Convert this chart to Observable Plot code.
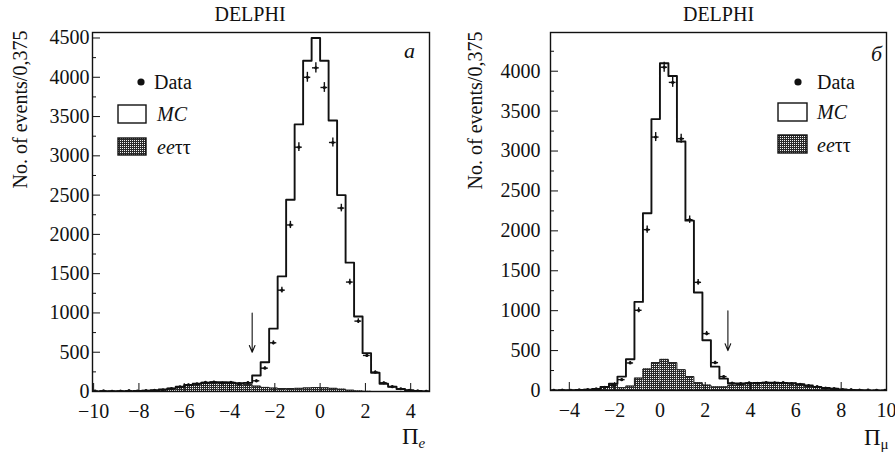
<!DOCTYPE html>
<html>
<head>
<meta charset="utf-8">
<script src="https://cdn.jsdelivr.net/npm/d3@7"></script>
<script src="https://cdn.jsdelivr.net/npm/@observablehq/plot@0.6"></script>
<style>
  body { margin: 0; background: #fff; font-family: 'Liberation Serif'; }
  #fig { position: relative; width: 895px; height: 453px; color: #111; }
  .panel { position: absolute; top: 0; }
  #overlay { position: absolute; left: 0; top: 0; pointer-events: none; }
  #overlay text { font-family: 'Liberation Serif'; font-size: 20px; }
</style>
</head>
<body>
<div id="fig">
  <div class="panel" id="left" style="left:0px"></div>
  <div class="panel" id="right" style="left:448px"></div>
  <svg id="overlay" width="895" height="453" fill="#111">
    <defs>
      <pattern id="hatch" width="2" height="2" patternUnits="userSpaceOnUse">
        <rect width="2" height="2" fill="#2a2a2a"/>
        <rect width="1" height="1" fill="#f4f4f4"/>
      </pattern>
    </defs>
    <!-- legend, left panel -->
    <circle cx="141" cy="82" r="3.6"/>
    <text x="154" y="82" dy="0.34em" style="font-family:'Liberation Serif'">Data</text>
    <rect x="118" y="105" width="28" height="18" fill="#fff" stroke="#111" stroke-width="1.4"/>
    <text x="157" y="114" dy="0.34em" font-style="italic" style="font-family:'Liberation Serif'">MC</text>
    <rect x="118" y="138" width="28" height="17" fill="url(#hatch)" stroke="#111" stroke-width="1.4"/>
    <text x="157" y="147" dy="0.34em" style="font-family:'Liberation Serif'"><tspan font-style="italic">ee</tspan>ττ</text>
    <!-- legend, right panel -->
    <circle cx="798" cy="82" r="3.6"/>
    <text x="817" y="82" dy="0.34em" style="font-family:'Liberation Serif'">Data</text>
    <rect x="778" y="103" width="29" height="18" fill="#fff" stroke="#111" stroke-width="1.4"/>
    <text x="817" y="112" dy="0.34em" font-style="italic" style="font-family:'Liberation Serif'">MC</text>
    <rect x="778" y="135" width="29" height="18" fill="url(#hatch)" stroke="#111" stroke-width="1.4"/>
    <text x="817" y="145" dy="0.34em" style="font-family:'Liberation Serif'"><tspan font-style="italic">ee</tspan>ττ</text>
  </svg>
</div>
<script>
// Histograms share a bin width of 0.375; bin k spans [k·w, (k+1)·w).
const binWidth = 0.375;

// Π_e distribution (electron identification)
const eFirstBin = -27;
const eMC = [2,3,3,4,5,7,10,16,26,40,60,82,100,112,118,117,112,105,110,204,373,800,1465,2440,3400,4210,4500,4210,3450,2500,1640,955,488,238,98,60,32,15,6,2];
const eData = [5,8,3,6,10,4,12,14,22,38,58,85,96,115,120,108,118,100,112,136,297,620,1290,2120,3110,4000,4120,3870,3170,2335,1393,896,459,246,111,62,35,15,8,3];
const eBgFirstBin = -22;
const eBg = [3,6,12,22,36,55,78,96,108,115,114,108,100,88,68,52,43,38,38,40,45,50,47,40,30,16,7,2];
const eCut = [{x: -3, from: 1000, to: 500}];
const eXTicks = [-10, -8, -6, -4, -2, 0, 2, 4];
const eYTicks = [0, 500, 1000, 1500, 2000, 2500, 3000, 3500, 4000, 4500];
const eYMinor = [250, 750, 1250, 1750, 2250, 2750, 3250, 3750, 4250];

// Π_μ distribution (muon identification)
const mFirstBin = -13;
const mMC = [2,3,4,6,10,18,45,86,174,392,1110,2220,3400,4100,3940,3120,2128,1228,630,299,149,88,88,92,95,98,98,96,92,80,62,46,33,22,14,8,4,2,2,1];
const mData = [3,5,2,8,12,20,40,65,136,345,1005,2015,3175,4050,3860,3155,2140,1355,713,349,174,92,85,95,90,100,95,98,88,78,60,48,30,24,12,10,5,4,3,2];
const mBgFirstBin = -7;
const mBg = [40,80,35,55,155,270,350,390,350,260,175,98,68,46,46,65,78,85,90,92,92,90,85,72,55,40,28,18,10,5,2];
const mCut = [{x: 3, from: 1000, to: 500}];
const mXTicks = [-4, -2, 0, 2, 4, 6, 8, 10];
const mYTicks = [0, 500, 1000, 1500, 2000, 2500, 3000, 3500, 4000];
const mYMinor = [250, 750, 1250, 1750, 2250, 2750, 3250, 3750, 4250];

const experiment = "DELPHI";
const yTitle = "No. of events/0,375";
const serif = "Liberation Serif";

function toBins(first, values) {
  return values.map((v, i) => {
    const k = first + i;
    return {x1: k * binWidth, x2: (k + 1) * binWidth, xc: (k + 0.5) * binWidth, v};
  });
}

// outline of a histogram as a closed staircase
function staircase(bins) {
  const pts = [{x: bins[0].x1, y: 0}];
  for (const b of bins) pts.push({x: b.x1, y: b.v}, {x: b.x2, y: b.v});
  pts.push({x: bins[bins.length - 1].x2, y: 0});
  return pts;
}

function panel(o) {
  const mc = toBins(o.mcFirst, o.mc);
  const data = toBins(o.mcFirst, o.data);
  const bg = toBins(o.bgFirst, o.bg);
  const ink = "#111";
  const txt = {fontFamily: serif, fill: ink};
  return Plot.plot({
    width: 447,
    height: 453,
    marginTop: 32,
    marginBottom: o.marginBottom,
    marginLeft: o.marginLeft,
    marginRight: o.marginRight,
    style: {fontFamily: serif, fontSize: "20px", color: ink, background: "transparent", overflow: "visible"},
    x: {domain: o.xDomain, label: null},
    y: {domain: o.yDomain, label: null},
    marks: [
      Plot.rectY(bg, {x1: "x1", x2: "x2", y: "v", fill: "url(#hatch)", clip: true}),
      Plot.line(staircase(bg), {x: "x", y: "y", stroke: "#222", strokeWidth: 1, clip: true}),
      Plot.line(staircase(mc), {x: "x", y: "y", stroke: ink, strokeWidth: 1.9, clip: true}),
      Plot.ruleX(data, {x: "xc", y1: d => d.v - Math.sqrt(d.v), y2: d => d.v + Math.sqrt(d.v), stroke: ink, strokeWidth: 1.4, clip: true}),
      Plot.ruleY(data, {y: "v", x1: d => d.xc - 0.15, x2: d => d.xc + 0.15, stroke: ink, strokeWidth: 1.4, clip: true}),
      Plot.dot(data, {x: "xc", y: "v", r: 1.6, fill: ink, clip: true}),
      Plot.arrow(o.cut, {x: "x", y1: "from", y2: "to", stroke: ink, strokeWidth: 1.1, headLength: 10, headAngle: 45}),
      Plot.frame({stroke: ink, strokeWidth: 1.4}),
      // inward ticks
      Plot.axisX({ticks: o.xTicks, tickSize: -8, tickFormat: () => "", label: null, stroke: ink}),
      Plot.axisY({ticks: o.yTicks, tickSize: -8, tickFormat: () => "", label: null, stroke: ink}),
      Plot.axisY({ticks: o.yMinor, tickSize: -4, tickFormat: () => "", label: null, stroke: ink}),
      // tick labels
      Plot.axisX({ticks: o.xTicks, tickSize: 0, tickPadding: 12, label: null, fontSize: 20, ...txt}),
      Plot.axisY({ticks: o.yTicks, tickSize: 0, tickPadding: o.yPad, tickFormat: d => String(d), label: null, fontSize: 20, ...txt}),
      // titles
      Plot.text([experiment], {frameAnchor: "top", dx: o.titleDx, dy: -18, lineAnchor: "middle", fontSize: 20, ...txt}),
      Plot.text([yTitle], {frameAnchor: "top-left", dx: o.yTitleDx, dy: o.yTitleDy, rotate: -90, textAnchor: "middle", lineAnchor: "middle", fontSize: 20, ...txt}),
      Plot.text([o.tag], {frameAnchor: "top-right", dx: o.tagDx, dy: o.tagDy, textAnchor: "middle", lineAnchor: "middle", fontSize: 22, fontStyle: "italic", ...txt}),
      Plot.text(["Π"], {frameAnchor: "bottom-right", dx: o.piDx, dy: o.piDy, textAnchor: "end", lineAnchor: "bottom", fontSize: 23, ...txt}),
      Plot.text([o.sub], {frameAnchor: "bottom-right", dx: o.piDx, dy: o.piDy + 4, textAnchor: "start", lineAnchor: "bottom", fontSize: 15, fontStyle: o.subItalic ? "italic" : "normal", ...txt})
    ]
  });
}

document.getElementById("left").append(panel({
  mc: eMC, data: eData, mcFirst: eFirstBin, bg: eBg, bgFirst: eBgFirstBin, cut: eCut,
  xDomain: [-10.05, 4.83], yDomain: [0, 4570],
  xTicks: eXTicks, yTicks: eYTicks, yMinor: eYMinor,
  marginLeft: 92, marginRight: 18, marginBottom: 62, yPad: 3,
  titleDx: -11, yTitleDx: -72, yTitleDy: 77,
  tag: "а", tagDx: -20, tagDy: 18,
  sub: "e", subItalic: true, piDx: -11, piDy: 52
}));

document.getElementById("right").append(panel({
  mc: mMC, data: mData, mcFirst: mFirstBin, bg: mBg, bgFirst: mBgFirstBin, cut: mCut,
  xDomain: [-4.83, 10], yDomain: [0, 4485],
  xTicks: mXTicks, yTicks: mYTicks, yMinor: mYMinor,
  marginLeft: 102, marginRight: 9, marginBottom: 63, yPad: 10,
  titleDx: 0, yTitleDx: -75, yTitleDy: 78,
  tag: "б", tagDx: -10, tagDy: 21,
  sub: "μ", subItalic: false, piDx: -6, piDy: 54
}));
</script>
</body>
</html>
